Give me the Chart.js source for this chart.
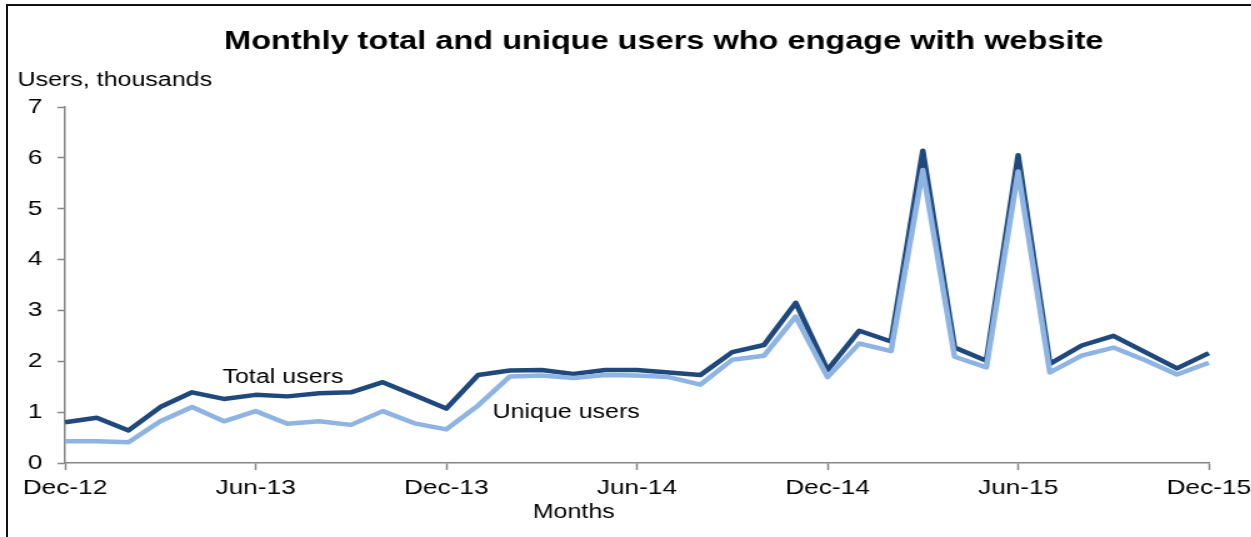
<!DOCTYPE html>
<html>
<head>
<meta charset="utf-8">
<script src="https://cdn.jsdelivr.net/npm/chart.js@4.4.1/dist/chart.umd.min.js"></script>
<style>
  html, body { margin: 0; padding: 0; background: #fff; overflow: hidden; }
  #frame {
    position: absolute; left: 6px; top: 4px; width: 1300px; height: 600px;
    border-left: 2px solid #111; border-top: 2px solid #111;
  }
  #wrap {
    position: absolute; left: 0; top: 0; width: 1001px; height: 537px;
    transform: scaleX(1.25); transform-origin: 0 0;
  }
</style>
</head>
<body>
<div id="frame"></div>
<div id="wrap"><canvas id="usersChart" width="1001" height="537"></canvas></div>
<script>
let months = [
  'Dec-12', 'Jan-13', 'Feb-13', 'Mar-13', 'Apr-13', 'May-13', 'Jun-13', 'Jul-13', 'Aug-13', 'Sep-13', 'Oct-13', 'Nov-13',
  'Dec-13', 'Jan-14', 'Feb-14', 'Mar-14', 'Apr-14', 'May-14', 'Jun-14', 'Jul-14', 'Aug-14', 'Sep-14', 'Oct-14', 'Nov-14',
  'Dec-14', 'Jan-15', 'Feb-15', 'Mar-15', 'Apr-15', 'May-15', 'Jun-15', 'Jul-15', 'Aug-15', 'Sep-15', 'Oct-15', 'Nov-15',
  'Dec-15'
];

// thousands of users per month
let totalUsers = [
  0.80, 0.89, 0.64, 1.10, 1.39, 1.26, 1.34, 1.31, 1.37, 1.39, 1.59, 1.33,
  1.07, 1.73, 1.82, 1.83, 1.75, 1.83, 1.83, 1.78, 1.73, 2.18, 2.32, 3.15,
  1.83, 2.60, 2.39, 6.14, 2.27, 2.01, 6.05, 1.95, 2.31, 2.50, 2.18, 1.86,
  2.16
];
let uniqueUsers = [
  0.43, 0.43, 0.41, 0.82, 1.10, 0.82, 1.02, 0.77, 0.82, 0.75, 1.02, 0.78,
  0.66, 1.13, 1.70, 1.72, 1.67, 1.73, 1.72, 1.69, 1.54, 2.03, 2.11, 2.88,
  1.69, 2.35, 2.20, 5.76, 2.09, 1.88, 5.73, 1.78, 2.11, 2.27, 2.02, 1.74,
  1.97
];

let titleText = 'Monthly total and unique users who engage with website';
let yTitle = 'Users, thousands';
let xTitle = 'Months';

const FONT = '"Liberation Sans", Arial, Helvetica, sans-serif';
const AXIS = '#868686';
Chart.defaults.font.family = FONT;
Chart.defaults.color = '#000';

// title, axis names and series names
const chartText = {
  id: 'chartText',
  afterDraw(chart) {
    const ctx = chart.ctx;
    ctx.save();
    ctx.fillStyle = '#000';
    ctx.textBaseline = 'alphabetic';
    ctx.textAlign = 'center';
    ctx.font = 'bold 26px ' + FONT;
    ctx.fillText(titleText, 531, 49);
    ctx.font = '20px ' + FONT;
    ctx.fillText(xTitle, 459, 518);
    ctx.textAlign = 'left';
    ctx.fillText(yTitle, 14, 86);
    ctx.fillText('Total users', 178, 383);
    ctx.fillText('Unique users', 394, 418);
    ctx.restore();
  }
};

let ctx = document.getElementById('usersChart').getContext('2d');

let chart = new Chart(ctx, {
  type: 'line',
  data: {
    labels: months,
    datasets: [
      {
        label: 'Total users',
        data: totalUsers,
        borderColor: '#1f497d',
        borderWidth: 4.5,
        borderJoinStyle: 'round',
        pointRadius: 0,
        tension: 0,
        order: 1
      },
      {
        label: 'Unique users',
        data: uniqueUsers,
        borderColor: '#8db4e3',
        borderWidth: 4.5,
        borderJoinStyle: 'round',
        pointRadius: 0,
        tension: 0,
        order: 0
      }
    ]
  },
  options: {
    responsive: false,
    animation: false,
    devicePixelRatio: 1,
    layout: { padding: { left: 0, right: 34, top: 107, bottom: 24 } },
    plugins: {
      legend: { display: false },
      tooltip: { enabled: false },
      title: { display: false }
    },
    scales: {
      x: {
        offset: false,
        border: { display: true, color: AXIS, width: 1.5 },
        grid: {
          drawOnChartArea: false,
          drawTicks: true,
          tickLength: 7,
          tickColor: c => (c.index % 6 === 0 ? AXIS : 'rgba(0,0,0,0)'),
          tickWidth: 1.5
        },
        ticks: {
          autoSkip: false,
          maxRotation: 0,
          padding: 6,
          font: { size: 21 },
          callback: (v, i) => (i % 6 === 0 ? months[i] : '')
        },
        afterFit: s => {
          s.height = 50;
          // end labels may hang past the plot edges
          s.paddingLeft = 0;
          s.paddingRight = 0;
        }
      },
      y: {
        min: 0,
        max: 7,
        border: { display: true, color: AXIS, width: 1.5 },
        grid: {
          drawOnChartArea: false,
          drawTicks: true,
          tickLength: 6,
          tickColor: AXIS,
          tickWidth: 1.5
        },
        ticks: { stepSize: 1, padding: 12, font: { size: 21 } },
        afterFit: s => { s.width = 52; }
      }
    }
  },
  plugins: [chartText]
});
</script>
</body>
</html>
